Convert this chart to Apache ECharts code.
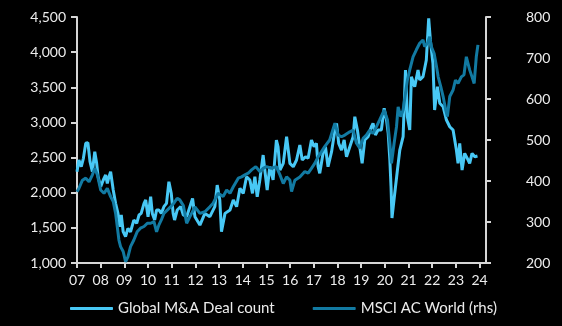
<!DOCTYPE html>
<html>
<head>
<meta charset="utf-8">
<script src="https://cdn.jsdelivr.net/npm/echarts@6/dist/echarts.min.js"></script>
<style>
html,body{margin:0;padding:0;background:#000;}
#c{width:562px;height:326px;}
</style>
</head>
<body>
<div id="c"></div>
<script>
var yearLabels = ['07','08','09','10','11','12','13','14','15','16','17','18','19','20','21','22','23','24'];
var seriesNames = ['Global M&A Deal count', 'MSCI AC World (rhs)'];

var dealX = [2007.00,2007.08,2007.18,2007.27,2007.37,2007.46,2007.55,2007.65,2007.75,2007.83,2007.89,
2008.00,2008.11,2008.21,2008.28,2008.35,2008.42,2008.53,2008.63,2008.73,2008.81,2008.87,2008.95,
2009.05,2009.15,2009.26,2009.40,2009.52,2009.62,2009.71,2009.83,2009.90,
2010.00,2010.11,2010.18,2010.28,2010.36,2010.46,2010.56,2010.67,2010.78,2010.88,2010.98,
2011.06,2011.12,2011.23,2011.38,2011.49,2011.63,2011.88,2011.98,
2012.19,2012.40,2012.61,2012.82,2012.92,2013.03,2013.10,2013.25,2013.46,2013.60,2013.74,2013.88,
2014.02,2014.16,2014.30,2014.41,2014.51,2014.61,2014.72,2014.86,2014.93,
2015.03,2015.14,2015.28,2015.42,2015.49,2015.57,2015.71,2015.85,2015.92,2015.99,
2016.13,2016.27,2016.41,2016.51,2016.65,2016.76,2016.90,
2017.01,2017.11,2017.18,2017.25,2017.39,2017.49,2017.60,2017.75,2017.89,2017.96,
2018.05,2018.17,2018.28,2018.38,2018.52,2018.66,2018.73,2018.84,2018.94,
2019.04,2019.15,2019.29,2019.43,2019.50,2019.60,2019.71,2019.85,2019.97,
2020.07,2020.14,2020.21,2020.26,2020.30,2020.40,2020.53,2020.63,2020.77,2020.87,2020.95,
2021.05,2021.12,2021.26,2021.40,2021.47,2021.61,2021.75,2021.85,2021.92,
2022.03,2022.10,2022.22,2022.32,2022.46,2022.60,2022.74,2022.88,
2023.02,2023.09,2023.16,2023.26,2023.37,2023.48,2023.58,2023.68,2023.80,2023.91];
var dealCount = [2299,2465,2370,2489,2703,2712,2441,2299,2584,2418,2228,
2085,2181,2252,2133,2228,2299,2038,1849,1706,1516,1683,1445,
1374,1493,1445,1611,1564,1683,1706,1849,1896,
1659,1943,1706,1611,1754,1754,1706,1801,1849,2157,1991,
1706,1611,1754,1801,1683,1659,1920,1659,
1540,1706,1659,1801,2109,1896,1445,1706,1754,1896,1801,2062,
1991,2228,2181,1991,2228,1943,2181,2536,2323,
2038,2370,2181,2750,2654,2323,2418,2797,2607,2418,
2370,2465,2679,2465,2512,2489,2750,
2654,2703,2370,2276,2560,2654,2370,2584,2892,2987,
2703,2607,2750,2512,2654,2797,3081,2892,2654,
2418,2750,2797,2939,2987,2821,2892,2892,3201,
3034,2845,2465,2085,1640,1943,2323,2607,2797,3746,3081,
2892,3651,3508,3746,3604,3651,3888,4481,4173,
3841,3177,3508,3272,3224,3034,2939,2892,
2607,2418,2703,2323,2560,2489,2418,2560,2512,2522];

var msciX = [2007.00,2007.08,2007.23,2007.37,2007.51,2007.65,2007.75,2007.86,
2008.00,2008.14,2008.28,2008.42,2008.53,2008.63,2008.70,2008.77,2008.84,2008.95,
2009.05,2009.15,2009.26,2009.40,2009.54,2009.68,2009.83,2009.97,
2010.11,2010.25,2010.36,2010.46,2010.56,2010.67,2010.81,2010.95,
2011.09,2011.23,2011.34,2011.49,2011.63,2011.77,2011.98,
2012.19,2012.40,2012.61,2012.75,2012.96,2013.17,2013.32,2013.46,2013.60,2013.81,2013.95,
2014.09,2014.23,2014.37,2014.55,2014.72,2014.86,2015.00,2015.21,2015.42,2015.57,2015.71,2015.85,2015.99,
2016.06,2016.20,2016.41,2016.62,2016.76,2016.90,2017.04,2017.18,2017.32,2017.46,2017.67,2017.89,
2018.03,2018.17,2018.31,2018.52,2018.66,2018.80,2018.94,2019.08,2019.22,2019.36,2019.50,2019.64,2019.78,2019.97,
2020.11,2020.21,2020.28,2020.39,2020.49,2020.56,2020.67,2020.77,2020.87,2020.95,
2021.05,2021.19,2021.33,2021.47,2021.61,2021.68,2021.80,2021.89,2021.96,
2022.08,2022.18,2022.25,2022.36,2022.46,2022.57,2022.64,2022.74,2022.88,2022.98,
2023.09,2023.23,2023.34,2023.44,2023.58,2023.68,2023.77,2023.86,2023.93];
var msciAcwi = [374,382,402,407,398,415,431,415,
378,370,382,362,350,321,289,256,240,228,
203,215,240,256,276,285,289,297,
297,301,276,293,305,321,329,337,
346,358,354,340,297,313,337,
321,325,337,346,370,362,378,370,386,407,410,
415,419,427,435,423,431,435,431,435,415,394,410,402,
374,402,410,423,419,431,443,459,471,484,500,541,
512,508,512,520,524,492,480,504,512,524,516,532,549,573,
549,492,443,492,532,581,557,573,614,646,
671,703,720,736,744,728,736,752,728,
711,679,654,630,606,573,557,606,622,646,
638,654,659,703,671,654,638,703,732];

var leftTicks = {min:1000, max:4500, interval:500};
var rightTicks = {min:200, max:800, interval:100};

function pairs(xs, ys){ return xs.map(function(x,i){ return [x, ys[i]]; }); }

var LIGHT = '#48c8f5';
var DARK = '#127aa2';
var TXT = '#ececec';
var AX = '#d6d6d6';
var FONT = 'Lato';

var chart = echarts.init(document.getElementById('c'), null, {renderer:'canvas'});
chart.setOption({
  backgroundColor: '#000',
  animation: false,
  textStyle: {fontFamily: FONT},
  grid: {left: 77, right: 76, top: 17, bottom: 63, containLabel: false, outerBoundsMode: 'none'},
  legend: {
    left: 70, top: 301, padding: 0,
    itemWidth: 43, itemHeight: 3, itemGap: 38,
    textStyle: {color: TXT, fontSize: 15, fontFamily: FONT},
    data: [
      {name: seriesNames[0], icon: 'roundRect', itemStyle: {color: LIGHT}},
      {name: seriesNames[1], icon: 'roundRect', itemStyle: {color: DARK}}
    ]
  },
  xAxis: {
    type: 'value', min: 2007, max: 2024.27, interval: 1,
    axisLine: {show: true, lineStyle: {color: AX, width: 2}},
    axisTick: {show: true, inside: false, length: 5, lineStyle: {color: AX, width: 2}},
    splitLine: {show: false},
    axisLabel: {
      color: TXT, fontSize: 14, fontFamily: FONT, margin: 10, showMaxLabel: false,
      formatter: function(v){
        var i = Math.round(v) - 2007;
        return (Math.abs(v - Math.round(v)) < 1e-6 && yearLabels[i]) ? yearLabels[i] : '';
      }
    }
  },
  yAxis: [
    {
      type: 'value', position: 'left', min: leftTicks.min, max: leftTicks.max, interval: leftTicks.interval,
      axisLine: {show: true, lineStyle: {color: AX, width: 2}},
      axisTick: {show: true, length: 6, lineStyle: {color: AX, width: 2}},
      splitLine: {show: false},
      axisLabel: {color: TXT, fontSize: 14, fontFamily: FONT, margin: 11,
        formatter: function(v){ return v.toLocaleString('en-US'); }}
    },
    {
      type: 'value', position: 'right', min: rightTicks.min, max: rightTicks.max, interval: rightTicks.interval,
      axisLine: {show: true, lineStyle: {color: AX, width: 2}},
      axisTick: {show: true, length: 5, lineStyle: {color: AX, width: 2}},
      splitLine: {show: false},
      axisLabel: {color: TXT, fontSize: 14, fontFamily: FONT, margin: 40}
    }
  ],
  series: [
    {
      name: seriesNames[0], type: 'line', yAxisIndex: 0, showSymbol: false,
      data: pairs(dealX, dealCount),
      lineStyle: {color: LIGHT, width: 3}, itemStyle: {color: LIGHT}
    },
    {
      name: seriesNames[1], type: 'line', yAxisIndex: 1, showSymbol: false,
      data: pairs(msciX, msciAcwi),
      lineStyle: {color: DARK, width: 3}, itemStyle: {color: DARK}
    }
  ]
});
</script>
</body>
</html>
